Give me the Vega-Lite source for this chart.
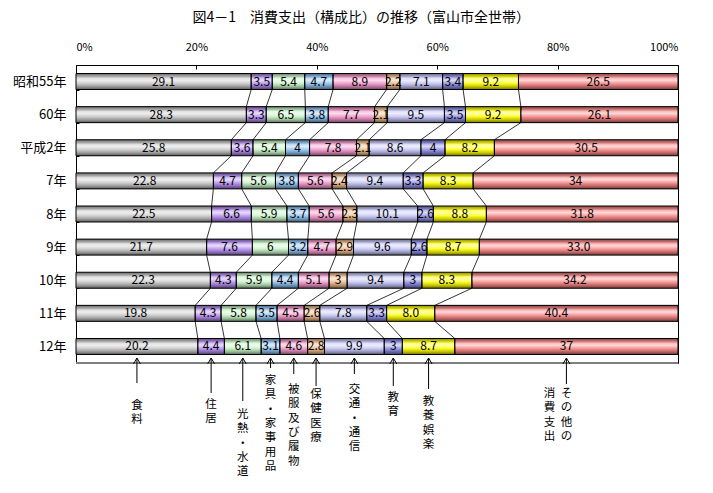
{
  "$schema": "https://vega.github.io/schema/vega-lite/v6.json",
  "padding": {"left": 5, "top": 10, "right": 5, "bottom": 0},
  "background": "white",
  "config": {"font": "Noto Sans CJK JP", "concat": {"spacing": 0}},
  "title": {"text": "図4－1　消費支出（構成比）の推移（富山市全世帯）", "fontSize": 14, "fontWeight": "normal", "color": "black", "anchor": "middle", "offset": 6, "dx": 19},
  "bounds": "flush",
  "datasets": {
    "spend": [
      {"year": "昭和55年", "yo": 1, "cat": "食料", "c": 1, "v": 29.1, "t": "29.1"},
      {"year": "昭和55年", "yo": 1, "cat": "住居", "c": 2, "v": 3.5, "t": "3.5"},
      {"year": "昭和55年", "yo": 1, "cat": "光熱・水道", "c": 3, "v": 5.4, "t": "5.4"},
      {"year": "昭和55年", "yo": 1, "cat": "家具・家事用品", "c": 4, "v": 4.7, "t": "4.7"},
      {"year": "昭和55年", "yo": 1, "cat": "被服及び履物", "c": 5, "v": 8.9, "t": "8.9"},
      {"year": "昭和55年", "yo": 1, "cat": "保健医療", "c": 6, "v": 2.2, "t": "2.2"},
      {"year": "昭和55年", "yo": 1, "cat": "交通・通信", "c": 7, "v": 7.1, "t": "7.1"},
      {"year": "昭和55年", "yo": 1, "cat": "教育", "c": 8, "v": 3.4, "t": "3.4"},
      {"year": "昭和55年", "yo": 1, "cat": "教養娯楽", "c": 9, "v": 9.2, "t": "9.2"},
      {"year": "昭和55年", "yo": 1, "cat": "その他の消費支出", "c": 10, "v": 26.5, "t": "26.5"},
      {"year": "60年", "yo": 2, "cat": "食料", "c": 1, "v": 28.3, "t": "28.3"},
      {"year": "60年", "yo": 2, "cat": "住居", "c": 2, "v": 3.3, "t": "3.3"},
      {"year": "60年", "yo": 2, "cat": "光熱・水道", "c": 3, "v": 6.5, "t": "6.5"},
      {"year": "60年", "yo": 2, "cat": "家具・家事用品", "c": 4, "v": 3.8, "t": "3.8"},
      {"year": "60年", "yo": 2, "cat": "被服及び履物", "c": 5, "v": 7.7, "t": "7.7"},
      {"year": "60年", "yo": 2, "cat": "保健医療", "c": 6, "v": 2.1, "t": "2.1"},
      {"year": "60年", "yo": 2, "cat": "交通・通信", "c": 7, "v": 9.5, "t": "9.5"},
      {"year": "60年", "yo": 2, "cat": "教育", "c": 8, "v": 3.5, "t": "3.5"},
      {"year": "60年", "yo": 2, "cat": "教養娯楽", "c": 9, "v": 9.2, "t": "9.2"},
      {"year": "60年", "yo": 2, "cat": "その他の消費支出", "c": 10, "v": 26.1, "t": "26.1"},
      {"year": "平成2年", "yo": 3, "cat": "食料", "c": 1, "v": 25.8, "t": "25.8"},
      {"year": "平成2年", "yo": 3, "cat": "住居", "c": 2, "v": 3.6, "t": "3.6"},
      {"year": "平成2年", "yo": 3, "cat": "光熱・水道", "c": 3, "v": 5.4, "t": "5.4"},
      {"year": "平成2年", "yo": 3, "cat": "家具・家事用品", "c": 4, "v": 4, "t": "4"},
      {"year": "平成2年", "yo": 3, "cat": "被服及び履物", "c": 5, "v": 7.8, "t": "7.8"},
      {"year": "平成2年", "yo": 3, "cat": "保健医療", "c": 6, "v": 2.1, "t": "2.1"},
      {"year": "平成2年", "yo": 3, "cat": "交通・通信", "c": 7, "v": 8.6, "t": "8.6"},
      {"year": "平成2年", "yo": 3, "cat": "教育", "c": 8, "v": 4, "t": "4"},
      {"year": "平成2年", "yo": 3, "cat": "教養娯楽", "c": 9, "v": 8.2, "t": "8.2"},
      {"year": "平成2年", "yo": 3, "cat": "その他の消費支出", "c": 10, "v": 30.5, "t": "30.5"},
      {"year": "7年", "yo": 4, "cat": "食料", "c": 1, "v": 22.8, "t": "22.8"},
      {"year": "7年", "yo": 4, "cat": "住居", "c": 2, "v": 4.7, "t": "4.7"},
      {"year": "7年", "yo": 4, "cat": "光熱・水道", "c": 3, "v": 5.6, "t": "5.6"},
      {"year": "7年", "yo": 4, "cat": "家具・家事用品", "c": 4, "v": 3.8, "t": "3.8"},
      {"year": "7年", "yo": 4, "cat": "被服及び履物", "c": 5, "v": 5.6, "t": "5.6"},
      {"year": "7年", "yo": 4, "cat": "保健医療", "c": 6, "v": 2.4, "t": "2.4"},
      {"year": "7年", "yo": 4, "cat": "交通・通信", "c": 7, "v": 9.4, "t": "9.4"},
      {"year": "7年", "yo": 4, "cat": "教育", "c": 8, "v": 3.3, "t": "3.3"},
      {"year": "7年", "yo": 4, "cat": "教養娯楽", "c": 9, "v": 8.3, "t": "8.3"},
      {"year": "7年", "yo": 4, "cat": "その他の消費支出", "c": 10, "v": 34, "t": "34"},
      {"year": "8年", "yo": 5, "cat": "食料", "c": 1, "v": 22.5, "t": "22.5"},
      {"year": "8年", "yo": 5, "cat": "住居", "c": 2, "v": 6.6, "t": "6.6"},
      {"year": "8年", "yo": 5, "cat": "光熱・水道", "c": 3, "v": 5.9, "t": "5.9"},
      {"year": "8年", "yo": 5, "cat": "家具・家事用品", "c": 4, "v": 3.7, "t": "3.7"},
      {"year": "8年", "yo": 5, "cat": "被服及び履物", "c": 5, "v": 5.6, "t": "5.6"},
      {"year": "8年", "yo": 5, "cat": "保健医療", "c": 6, "v": 2.3, "t": "2.3"},
      {"year": "8年", "yo": 5, "cat": "交通・通信", "c": 7, "v": 10.1, "t": "10.1"},
      {"year": "8年", "yo": 5, "cat": "教育", "c": 8, "v": 2.6, "t": "2.6"},
      {"year": "8年", "yo": 5, "cat": "教養娯楽", "c": 9, "v": 8.8, "t": "8.8"},
      {"year": "8年", "yo": 5, "cat": "その他の消費支出", "c": 10, "v": 31.8, "t": "31.8"},
      {"year": "9年", "yo": 6, "cat": "食料", "c": 1, "v": 21.7, "t": "21.7"},
      {"year": "9年", "yo": 6, "cat": "住居", "c": 2, "v": 7.6, "t": "7.6"},
      {"year": "9年", "yo": 6, "cat": "光熱・水道", "c": 3, "v": 6, "t": "6"},
      {"year": "9年", "yo": 6, "cat": "家具・家事用品", "c": 4, "v": 3.2, "t": "3.2"},
      {"year": "9年", "yo": 6, "cat": "被服及び履物", "c": 5, "v": 4.7, "t": "4.7"},
      {"year": "9年", "yo": 6, "cat": "保健医療", "c": 6, "v": 2.9, "t": "2.9"},
      {"year": "9年", "yo": 6, "cat": "交通・通信", "c": 7, "v": 9.6, "t": "9.6"},
      {"year": "9年", "yo": 6, "cat": "教育", "c": 8, "v": 2.6, "t": "2.6"},
      {"year": "9年", "yo": 6, "cat": "教養娯楽", "c": 9, "v": 8.7, "t": "8.7"},
      {"year": "9年", "yo": 6, "cat": "その他の消費支出", "c": 10, "v": 33.0, "t": "33.0"},
      {"year": "10年", "yo": 7, "cat": "食料", "c": 1, "v": 22.3, "t": "22.3"},
      {"year": "10年", "yo": 7, "cat": "住居", "c": 2, "v": 4.3, "t": "4.3"},
      {"year": "10年", "yo": 7, "cat": "光熱・水道", "c": 3, "v": 5.9, "t": "5.9"},
      {"year": "10年", "yo": 7, "cat": "家具・家事用品", "c": 4, "v": 4.4, "t": "4.4"},
      {"year": "10年", "yo": 7, "cat": "被服及び履物", "c": 5, "v": 5.1, "t": "5.1"},
      {"year": "10年", "yo": 7, "cat": "保健医療", "c": 6, "v": 3, "t": "3"},
      {"year": "10年", "yo": 7, "cat": "交通・通信", "c": 7, "v": 9.4, "t": "9.4"},
      {"year": "10年", "yo": 7, "cat": "教育", "c": 8, "v": 3, "t": "3"},
      {"year": "10年", "yo": 7, "cat": "教養娯楽", "c": 9, "v": 8.3, "t": "8.3"},
      {"year": "10年", "yo": 7, "cat": "その他の消費支出", "c": 10, "v": 34.2, "t": "34.2"},
      {"year": "11年", "yo": 8, "cat": "食料", "c": 1, "v": 19.8, "t": "19.8"},
      {"year": "11年", "yo": 8, "cat": "住居", "c": 2, "v": 4.3, "t": "4.3"},
      {"year": "11年", "yo": 8, "cat": "光熱・水道", "c": 3, "v": 5.8, "t": "5.8"},
      {"year": "11年", "yo": 8, "cat": "家具・家事用品", "c": 4, "v": 3.5, "t": "3.5"},
      {"year": "11年", "yo": 8, "cat": "被服及び履物", "c": 5, "v": 4.5, "t": "4.5"},
      {"year": "11年", "yo": 8, "cat": "保健医療", "c": 6, "v": 2.6, "t": "2.6"},
      {"year": "11年", "yo": 8, "cat": "交通・通信", "c": 7, "v": 7.8, "t": "7.8"},
      {"year": "11年", "yo": 8, "cat": "教育", "c": 8, "v": 3.3, "t": "3.3"},
      {"year": "11年", "yo": 8, "cat": "教養娯楽", "c": 9, "v": 8.0, "t": "8.0"},
      {"year": "11年", "yo": 8, "cat": "その他の消費支出", "c": 10, "v": 40.4, "t": "40.4"},
      {"year": "12年", "yo": 9, "cat": "食料", "c": 1, "v": 20.2, "t": "20.2"},
      {"year": "12年", "yo": 9, "cat": "住居", "c": 2, "v": 4.4, "t": "4.4"},
      {"year": "12年", "yo": 9, "cat": "光熱・水道", "c": 3, "v": 6.1, "t": "6.1"},
      {"year": "12年", "yo": 9, "cat": "家具・家事用品", "c": 4, "v": 3.1, "t": "3.1"},
      {"year": "12年", "yo": 9, "cat": "被服及び履物", "c": 5, "v": 4.6, "t": "4.6"},
      {"year": "12年", "yo": 9, "cat": "保健医療", "c": 6, "v": 2.8, "t": "2.8"},
      {"year": "12年", "yo": 9, "cat": "交通・通信", "c": 7, "v": 9.9, "t": "9.9"},
      {"year": "12年", "yo": 9, "cat": "教育", "c": 8, "v": 3, "t": "3"},
      {"year": "12年", "yo": 9, "cat": "教養娯楽", "c": 9, "v": 8.7, "t": "8.7"},
      {"year": "12年", "yo": 9, "cat": "その他の消費支出", "c": 10, "v": 37, "t": "37"}
    ],
    "ann": [
      {"cat": "食料", "tip": -5, "end": 20, "top": 37, "t1": "食|料"},
      {"cat": "住居", "tip": -5, "end": 30, "top": 36, "t1": "住|居"},
      {"cat": "光熱・水道", "tip": -5, "end": 38, "top": 46, "t1": "光|熱|・|水|道"},
      {"cat": "家具・家事用品", "tip": -5, "end": 5, "top": 12, "t1": "家|具|・|家|事|用|品"},
      {"cat": "被服及び履物", "tip": -5, "end": 11, "top": 21, "t1": "被|服|及|び|履|物"},
      {"cat": "保健医療", "tip": -5, "end": 23, "top": 26, "t1": "保|健|医|療"},
      {"cat": "交通・通信", "tip": -5, "end": 11, "top": 21, "t1": "交|通|・|通|信"},
      {"cat": "教育", "tip": -5, "end": 23, "top": 29, "t1": "教|育"},
      {"cat": "教養娯楽", "tip": -5, "end": 26, "top": 33, "t1": "教|養|娯|楽"},
      {"cat": "その他の消費支出", "tip": -5, "end": 21, "top": 25, "t1": "そ|の|他|の", "t2": "消|費|支|出"}
    ]
  },
  "vconcat": [
    {
      "width": 602,
      "height": 298,
      "view": {"stroke": "black", "strokeWidth": 1},
      "data": {"name": "spend"},
      "transform": [
        {"stack": "v", "groupby": ["year"], "sort": [{"field": "c"}], "offset": "normalize", "as": ["s0", "s1"]},
        {"calculate": "(datum.s0 + datum.s1) / 2", "as": "mid"}
      ],
      "encoding": {
        "y": {
          "field": "year", "type": "nominal",
          "scale": {"domain": ["昭和55年", "60年", "平成2年", "7年", "8年", "9年", "10年", "11年", "12年"], "paddingInner": 0.517, "paddingOuter": 0.257},
          "axis": {"title": null, "domain": false, "labelFontSize": 13, "labelColor": "black", "tickBand": "extent", "tickSize": -3, "tickColor": "black", "labelPadding": 13, "minExtent": 70, "maxExtent": 70}
        }
      },
      "layer": [
        {
          "mark": {"type": "bar"},
          "encoding": {
            "x": {"field": "s0", "type": "quantitative", "scale": {"domain": [0, 1], "nice": false},
              "axis": {"orient": "top", "title": null, "format": "%", "values": [0, 0.2, 0.4, 0.6, 0.8, 1], "labelFontSize": 11, "labelColor": "black", "domain": false, "grid": false, "tickSize": -4, "tickColor": "black", "labelPadding": 17, "minExtent": 34, "maxExtent": 34}},
            "x2": {"field": "s1"},
            "color": {"field": "cat", "type": "nominal", "legend": null,
              "scale": {"domain": ["食料", "住居", "光熱・水道", "家具・家事用品", "被服及び履物", "保健医療", "交通・通信", "教育", "教養娯楽", "その他の消費支出"],
                "range": ["#c8c8c8", "#b48cf0", "#c6f2c6", "#8cc0f0", "#f094c8", "#ecb888", "#c4c4f6", "#8c8ce6", "#ffff00", "#f88484"]}}
          }
        },
        {
          "mark": {"type": "bar", "stroke": "black", "strokeWidth": 1,
            "fill": {"gradient": "linear", "x1": 0, "y1": 0, "x2": 0, "y2": 1, "stops": [
              {"offset": 0, "color": "rgba(0,0,0,0.5)"},
              {"offset": 0.12, "color": "rgba(0,0,0,0.25)"},
              {"offset": 0.28, "color": "rgba(255,255,255,0.4)"},
              {"offset": 0.42, "color": "rgba(255,255,255,0.7)"},
              {"offset": 0.6, "color": "rgba(255,255,255,0.2)"},
              {"offset": 0.8, "color": "rgba(0,0,0,0.2)"},
              {"offset": 1, "color": "rgba(0,0,0,0.55)"}
            ]}},
          "encoding": {
            "x": {"field": "s0", "type": "quantitative"},
            "x2": {"field": "s1"}
          }
        },
        {
          "transform": [
            {"window": [{"op": "lead", "field": "s1", "as": "ns1"}, {"op": "lead", "field": "year", "as": "nyear"}], "groupby": ["cat"], "sort": [{"field": "yo"}]},
            {"filter": "datum.nyear != null && datum.c < 10"}
          ],
          "mark": {"type": "rule", "color": "black", "strokeWidth": 0.8},
          "encoding": {
            "x": {"field": "s1", "type": "quantitative"},
            "x2": {"field": "ns1"},
            "y": {"field": "year", "type": "nominal", "bandPosition": 1},
            "y2": {"field": "nyear", "bandPosition": 0}
          }
        },
        {
          "mark": {"type": "text", "fontSize": 12, "color": "black"},
          "encoding": {
            "x": {"field": "mid", "type": "quantitative"},
            "text": {"field": "t"}
          }
        }
      ]
    },
    {
      "width": 602,
      "height": 120,
      "view": {"stroke": null},
      "data": {"name": "spend"},
      "transform": [
        {"filter": "datum.yo == 9"},
        {"stack": "v", "groupby": ["year"], "sort": [{"field": "c"}], "offset": "normalize", "as": ["s0", "s1"]},
        {"calculate": "(datum.s0 + datum.s1) / 2", "as": "mid"},
        {"lookup": "cat", "from": {"data": {"name": "ann"}, "key": "cat", "fields": ["tip", "end", "top", "t1", "t2"]}}
      ],
      "encoding": {
        "x": {"field": "mid", "type": "quantitative", "scale": {"domain": [0, 1], "nice": false}, "axis": null}
      },
      "layer": [
        {
          "mark": {"type": "rule", "color": "#808080", "strokeWidth": 1},
          "encoding": {
            "x": {"datum": 0},
            "x2": {"datum": 1},
            "y": {"datum": 0, "type": "quantitative", "scale": {"domain": [0, 120], "reverse": true, "nice": false}, "axis": null}
          }
        },
        {
          "mark": {"type": "rule", "color": "black", "strokeWidth": 1},
          "encoding": {
            "y": {"field": "tip", "type": "quantitative"},
            "y2": {"field": "end"}
          }
        },
        {
          "mark": {"type": "point", "shape": "M-1,1.7L0,0L1,1.7", "filled": false, "stroke": "black", "strokeWidth": 1, "size": 49, "opacity": 1},
          "encoding": {
            "y": {"field": "tip", "type": "quantitative"}
          }
        },
        {
          "mark": {"type": "text", "fontSize": 11.5, "color": "black", "baseline": "top", "align": "center", "lineBreak": "|", "lineHeight": 14.3},
          "encoding": {
            "y": {"field": "top", "type": "quantitative"},
            "text": {"field": "t1"}
          }
        },
        {
          "transform": [{"filter": "datum.t2 != null"}],
          "mark": {"type": "text", "fontSize": 11.5, "color": "black", "baseline": "top", "align": "center", "lineBreak": "|", "lineHeight": 14.3, "dx": -17},
          "encoding": {
            "y": {"field": "top", "type": "quantitative"},
            "text": {"field": "t2"}
          }
        }
      ]
    }
  ]
}
